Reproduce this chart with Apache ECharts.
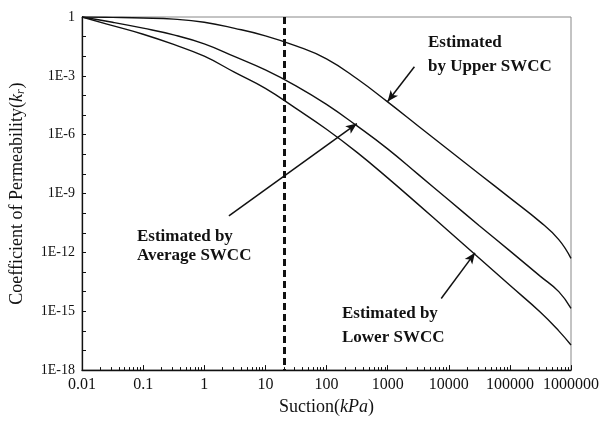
<!DOCTYPE html>
<html>
<head>
<meta charset="utf-8">
<script src="https://cdn.jsdelivr.net/npm/echarts@6/dist/echarts.min.js"></script>
<style>
  html, body { margin: 0; padding: 0; background: #fff; }
  #chart { width: 602px; height: 421px; }
</style>
</head>
<body>
<div id="chart"></div>
<script>
// Suction (kPa) sample points shared by the three permeability curves
const suction = [0.01, 0.0316, 0.1, 0.316, 1, 3.16, 10, 31.6, 100, 316, 1000, 3162, 10000, 31623, 100000, 316228, 630957, 1000000];

// Relative coefficient of permeability k_r from each SWCC
const krUpper = [1, 0.955, 0.891, 0.776, 0.537, 0.263, 0.110, 0.0339, 7.4e-3, 7.1e-4, 4.7e-5, 2.8e-6, 1.66e-7, 1.0e-8, 6.0e-10, 3.5e-11, 4.5e-12, 5.0e-13];
const krAverage = [1, 0.537, 0.269, 0.123, 0.0427, 9.5e-3, 2.0e-3, 3.1e-4, 3.5e-5, 2.8e-6, 1.9e-7, 9.5e-9, 4.7e-10, 2.3e-11, 1.2e-12, 6.0e-14, 1.0e-14, 1.4e-15];
const krLower = [1, 0.363, 0.132, 0.0398, 0.0100, 1.5e-3, 2.3e-4, 2.2e-5, 1.9e-6, 1.26e-7, 6.3e-9, 2.8e-10, 1.2e-11, 5.0e-13, 2.1e-14, 8.9e-16, 1.0e-16, 1.9e-17];

// Reference suction marked by the dashed line
const refSuction = 20;

// Annotation arrows: [suction, k_r] for tail and head
const arrowUpper = [[2742, 2.9e-3], [1000, 4.9e-5]];
const arrowAverage = [[2.53, 7.2e-11], [314, 3.7e-6]];
const arrowLower = [[7530, 4.5e-15], [26900, 9.5e-13]];

// Axis ticks and labels
const xTickValues = [0.01, 0.1, 1, 10, 100, 1000, 10000, 100000, 1000000];
const xTickLabels = ['0.01', '0.1', '1', '10', '100', '1000', '10000', '100000', '1000000'];
const yTickValues = [1e-18, 1e-15, 1e-12, 1e-9, 1e-6, 1e-3, 1];
const yTickLabels = ['1E-18', '1E-15', '1E-12', '1E-9', '1E-6', '1E-3', '1'];

const FONT = '"Liberation Serif", "DejaVu Serif", serif';
const INK = '#111';

// minor ticks at 2..9 within each decade, and a tick at every decade on k_r
const xMinorTicks = [];
for (let d = 0.01; d < 1e6; d *= 10) {
  for (let k = 2; k <= 9; k++) xMinorTicks.push(+(d * k).toPrecision(3));
}
const yDecadeTicks = [];
for (let e = -18; e <= 0; e++) yDecadeTicks.push(Number('1e' + e));

function pickLabel(values, labels) {
  return function (v) {
    const lv = Math.log10(v);
    for (let i = 0; i < values.length; i++) {
      if (Math.abs(Math.log10(values[i]) - lv) < 0.01) return labels[i];
    }
    return '';
  };
}

const toPairs = ys => suction.map((x, i) => [x, ys[i]]);

const curveStyle = { color: INK, width: 1.4 };

function arrowItem(a) {
  return [
    { coord: a[0], symbol: 'none' },
    { coord: a[1], symbol: 'arrow', symbolSize: [7, 11] }
  ];
}

const chart = echarts.init(document.getElementById('chart'), null, { renderer: 'canvas' });

chart.setOption({
  animation: false,
  backgroundColor: '#fff',
  grid: {
    left: 80, right: 30, top: 17, bottom: 48,
    show: true, borderColor: '#888', borderWidth: 1
  },
  xAxis: [
    {
      type: 'log', logBase: 10, min: 0.01, max: 1000000,
      name: '{t|Suction(}{k|kPa}{t|)}',
      nameLocation: 'middle', nameGap: 22,
      nameTextStyle: {
        color: INK, fontFamily: FONT, fontSize: 18,
        rich: {
          t: { color: INK, fontFamily: FONT, fontSize: 18 },
          k: { color: INK, fontFamily: FONT, fontSize: 18, fontStyle: 'italic' }
        }
      },
      axisLine: { show: true, lineStyle: { color: INK, width: 1.3 } },
      axisTick: { show: true, inside: true, length: 5, customValues: xTickValues, lineStyle: { color: INK, width: 1 } },
      axisLabel: {
        show: true, customValues: xTickValues, margin: 7,
        color: INK, fontFamily: FONT, fontSize: 16,
        formatter: pickLabel(xTickValues, xTickLabels)
      },
      splitLine: { show: false }
    },
    {
      type: 'log', logBase: 10, min: 0.01, max: 1000000, position: 'bottom',
      axisLine: { show: false },
      axisTick: { show: true, inside: true, length: 3, customValues: xMinorTicks, lineStyle: { color: INK, width: 1 } },
      axisLabel: { show: false },
      splitLine: { show: false }
    }
  ],
  yAxis: [
    {
      type: 'log', logBase: 10, min: 1e-18, max: 1,
      name: '{t|Coefficient of Permeability(}{k|k}{s|r}{t|)}',
      nameLocation: 'middle', nameGap: 55,
      nameTextStyle: {
        color: INK, fontFamily: FONT, fontSize: 18,
        rich: {
          t: { color: INK, fontFamily: FONT, fontSize: 18 },
          k: { color: INK, fontFamily: FONT, fontSize: 18, fontStyle: 'italic' },
          s: { color: INK, fontFamily: FONT, fontSize: 12, fontStyle: 'italic', padding: [8, 1, 0, 0] }
        }
      },
      axisLine: { show: true, lineStyle: { color: INK, width: 1.3 } },
      axisTick: { show: true, inside: true, length: 4, customValues: yDecadeTicks, lineStyle: { color: INK, width: 1 } },
      axisLabel: {
        show: true, customValues: yTickValues, margin: 7,
        color: INK, fontFamily: FONT, fontSize: 14,
        formatter: pickLabel(yTickValues, yTickLabels)
      },
      splitLine: { show: false }
    }
  ],
  series: [
    {
      name: 'Upper SWCC', type: 'line', xAxisIndex: 0, yAxisIndex: 0,
      data: toPairs(krUpper), showSymbol: false, smooth: 0.45,
      lineStyle: curveStyle, silent: true,
      markLine: {
        silent: true, animation: false,
        label: { show: false },
        data: [
          [
            { coord: [refSuction, 1], symbol: 'none' },
            { coord: [refSuction, 1e-18], symbol: 'none', lineStyle: { type: [7, 4], width: 3, color: INK } }
          ]
        ],
        lineStyle: { type: [7, 4], width: 3, color: INK }
      }
    },
    {
      name: 'Average SWCC', type: 'line', xAxisIndex: 0, yAxisIndex: 0,
      data: toPairs(krAverage), showSymbol: false, smooth: 0.45,
      lineStyle: curveStyle, silent: true,
      markLine: {
        silent: true, animation: false,
        label: { show: false },
        lineStyle: { type: 'solid', width: 1.5, color: INK },
        data: [arrowItem(arrowUpper), arrowItem(arrowAverage), arrowItem(arrowLower)]
      }
    },
    {
      name: 'Lower SWCC', type: 'line', xAxisIndex: 0, yAxisIndex: 0,
      data: toPairs(krLower), showSymbol: false, smooth: 0.45,
      lineStyle: curveStyle, silent: true
    }
  ],
  graphic: [
    {
      type: 'text', left: 428, top: 31, silent: true,
      style: { text: 'Estimated\nby Upper SWCC', font: 'bold 17px ' + FONT, fill: INK, lineHeight: 24 }
    },
    {
      type: 'text', left: 137, top: 227, silent: true,
      style: { text: 'Estimated by\nAverage SWCC', font: 'bold 17px ' + FONT, fill: INK, lineHeight: 19 }
    },
    {
      type: 'text', left: 342, top: 302, silent: true,
      style: { text: 'Estimated by\nLower SWCC', font: 'bold 17px ' + FONT, fill: INK, lineHeight: 24 }
    }
  ]
});
</script>
</body>
</html>
